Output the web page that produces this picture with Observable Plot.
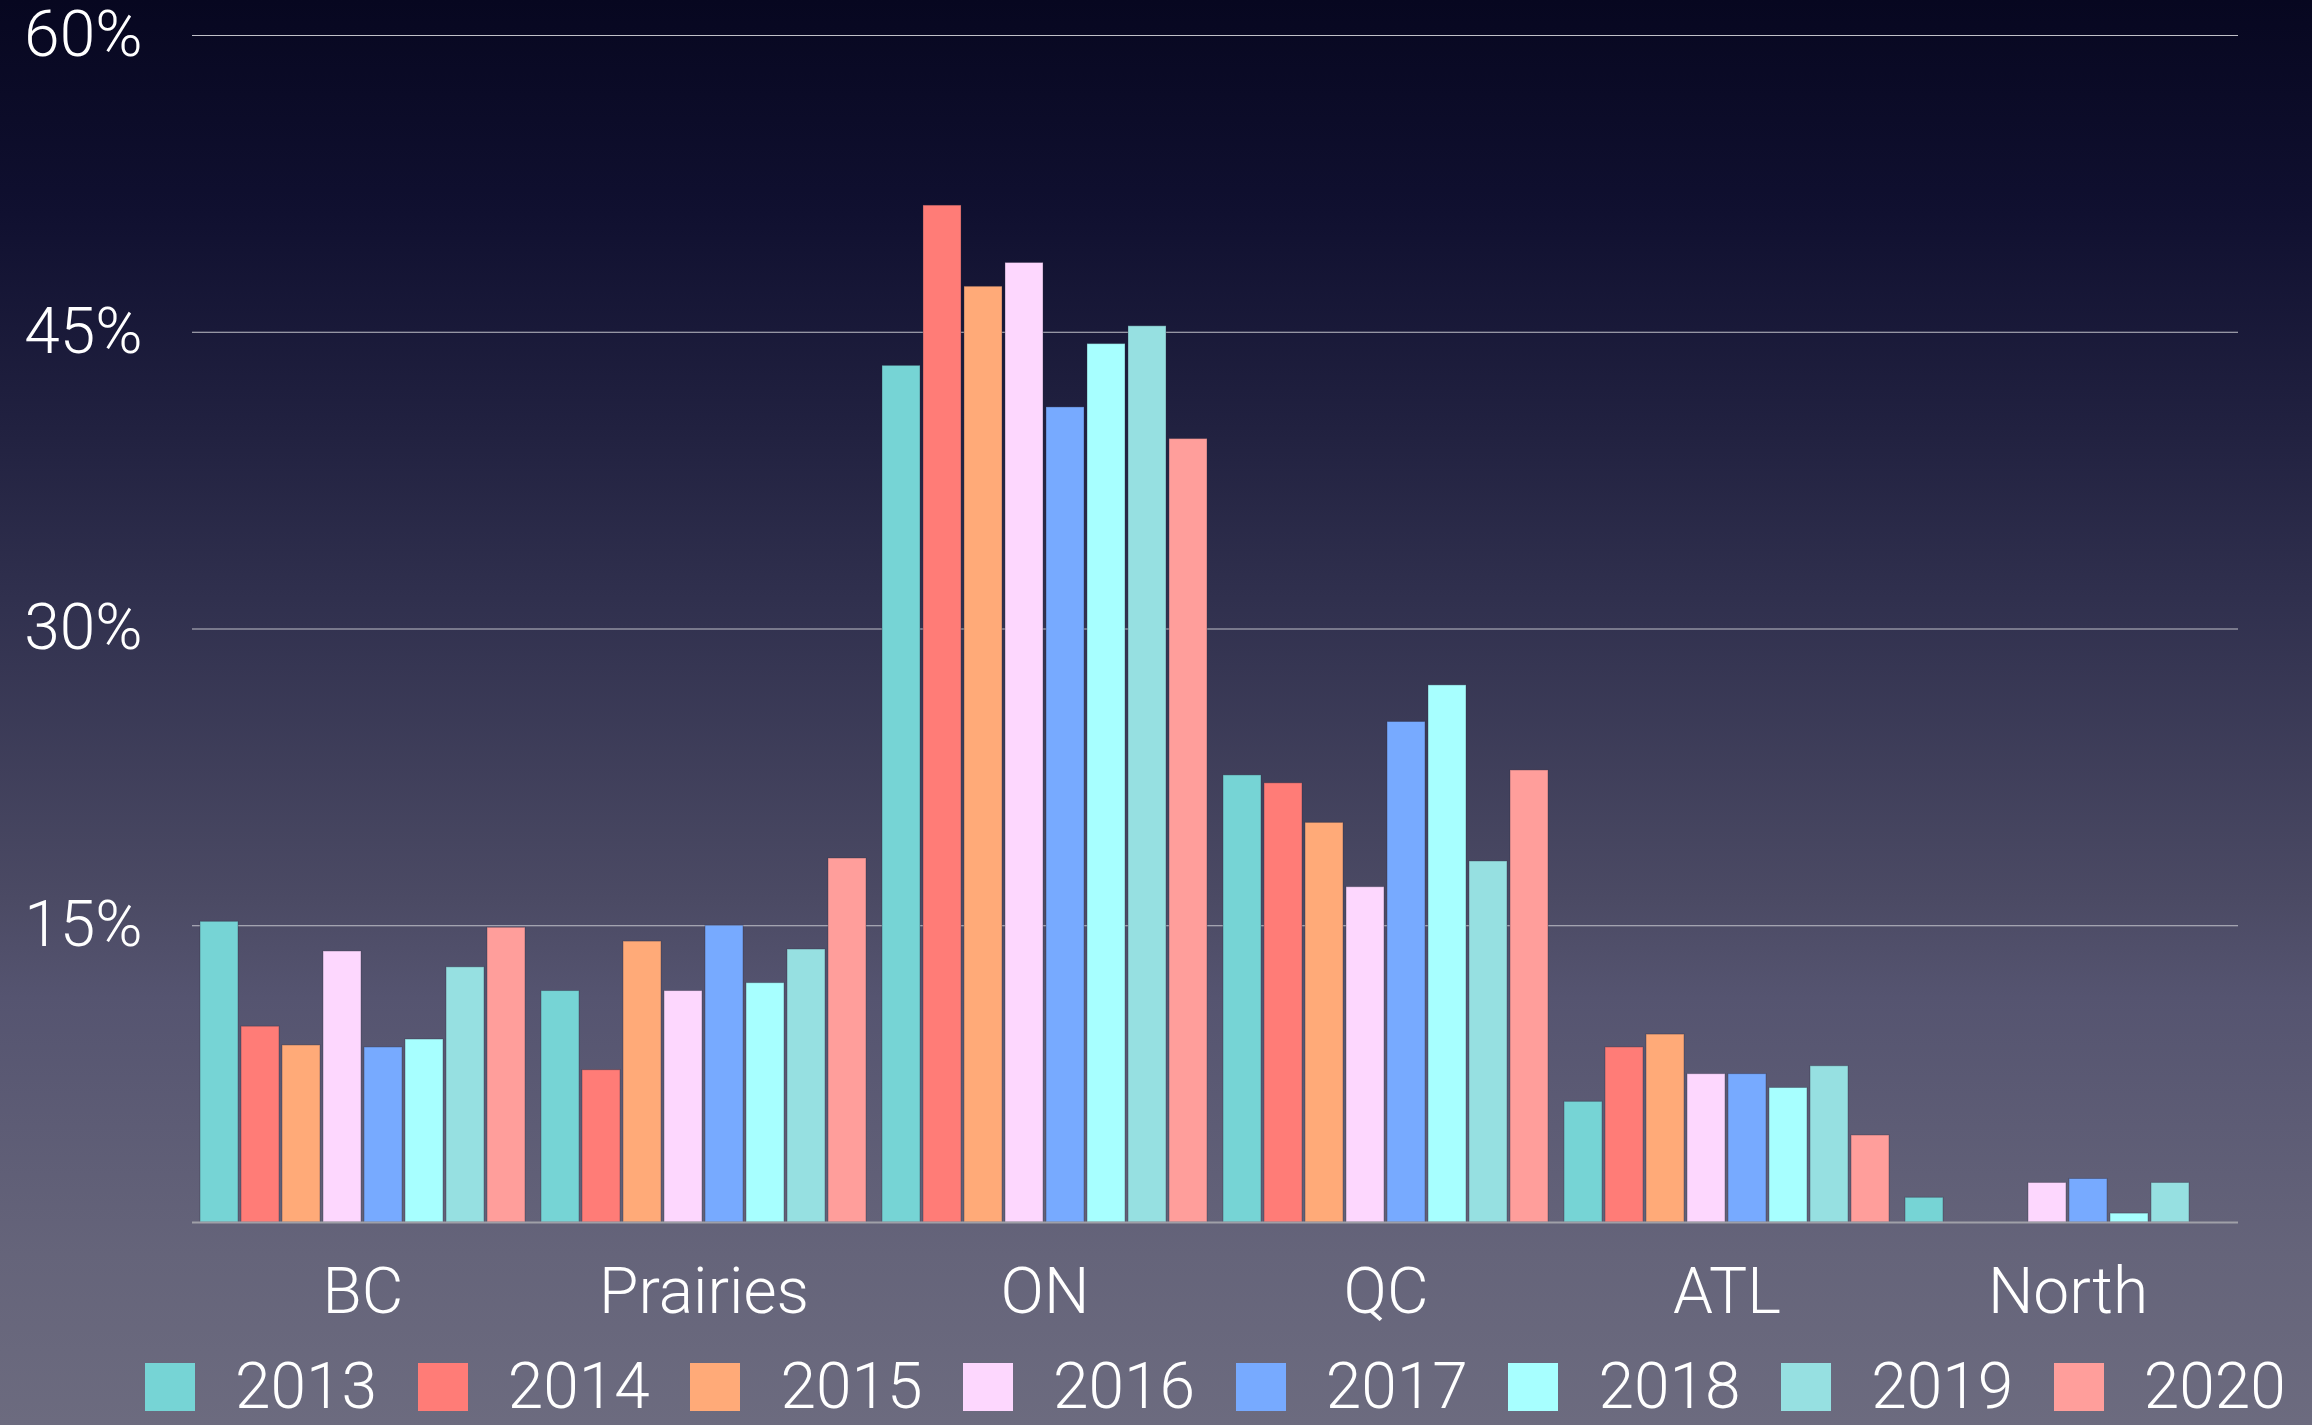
<!DOCTYPE html>
<html>
<head>
<meta charset="utf-8">
<script src="https://cdn.jsdelivr.net/npm/d3@7"></script>
<script src="https://cdn.jsdelivr.net/npm/@observablehq/plot@0.6"></script>
<style>
  html, body { margin: 0; padding: 0; }
  body {
    width: 2312px; height: 1425px; overflow: hidden;
    background: linear-gradient(to bottom, #070720 0%, #101030 15%, #212140 30%, #30304e 42%, #4b4a64 63%, #555470 70%, #65647a 88%, #6c6b7f 100%);
    font-family: "Helvetica Neue", Roboto, "Liberation Sans", sans-serif;
    font-weight: 300;
    color: white;
  }
  #chart svg { display: block; }
  .lg-swatches {
    font-family: "Helvetica Neue", Roboto, "Liberation Sans", sans-serif !important;
    font-weight: 300;
    font-size: 64px !important;
    line-height: 48px;
    color: white;
    margin: 23px 0 0 0 !important;
    padding-left: 145px;
    min-height: 48px !important;
    flex-wrap: nowrap !important;
  }
  .lg-swatch { width: 272.7px; margin-right: 0 !important; flex: none; }
  .lg-swatch > svg { margin-right: 40px !important; flex: none; }
</style>
</head>
<body>
<div id="chart"></div>
<script>
// Categories (regions) and series (years)
const regions = ["BC", "Prairies", "ON", "QC", "ATL", "North"];
const years = ["2013", "2014", "2015", "2016", "2017", "2018", "2019", "2020"];
const colors = ["#76d4d5", "#ff7c77", "#ffaa78", "#fdd7fe", "#77aaff", "#a7ffff", "#96e0e1", "#ff9e9b"];
const yTicks = [15, 30, 45, 60];

// Share (%) per region, one array per year: [BC, Prairies, ON, QC, ATL, North]
const s2013 = [15.2, 11.7, 43.3, 22.6, 6.1, 1.25];
const s2014 = [9.9, 7.7, 51.4, 22.2, 8.85, 0];
const s2015 = [8.95, 14.2, 47.3, 20.2, 9.5, 0];
const s2016 = [13.7, 11.7, 48.5, 16.95, 7.5, 2.0];
const s2017 = [8.85, 15.0, 41.2, 25.3, 7.5, 2.2];
const s2018 = [9.25, 12.1, 44.4, 27.15, 6.8, 0.45];
const s2019 = [12.9, 13.8, 45.3, 18.25, 7.9, 2.0];
const s2020 = [14.9, 18.4, 39.6, 22.85, 4.4, 0];

const series = [s2013, s2014, s2015, s2016, s2017, s2018, s2019, s2020];
const data = [];
years.forEach((yr, i) => regions.forEach((r, j) => data.push({region: r, year: yr, value: series[i][j]})));

const font = '"Helvetica Neue", Roboto, "Liberation Sans", sans-serif';

const plot = Plot.plot({
  width: 2312,
  height: 1340,
  marginLeft: 192,
  marginRight: 74,
  marginTop: 35,
  marginBottom: 118,
  style: {background: "transparent", color: "white", fontFamily: font, fontSize: "64px", fontWeight: 300, overflow: "visible"},
  facet: {data, x: "region"},
  fx: {domain: regions, paddingInner: 0.035, paddingOuter: 0.0175, label: null, axis: "bottom", tickSize: 0, tickPadding: 45},
  x: {domain: years, axis: null, paddingInner: 0.075, paddingOuter: 0},
  y: {domain: [0, 60], ticks: yTicks, tickFormat: d => d + "%", tickSize: 0, tickPadding: 56, label: null},
  color: {domain: years, range: colors},
  marks: [
    Plot.ruleY(yTicks, {stroke: "#c0c0c8", strokeWidth: 1.2, insetLeft: -6, insetRight: -6}),
    Plot.barY(data, {x: "year", y: "value", fill: "year", stroke: "rgba(40,40,60,0.35)", strokeWidth: 1}),
    Plot.ruleY([0], {stroke: "#a0a0a8", strokeWidth: 2, insetLeft: -6, insetRight: -6})
  ]
});

document.getElementById("chart").appendChild(plot);
const legend = plot.legend("color", {swatchWidth: 50, swatchHeight: 48, className: "lg"});
document.getElementById("chart").appendChild(legend);
</script>
</body>
</html>
